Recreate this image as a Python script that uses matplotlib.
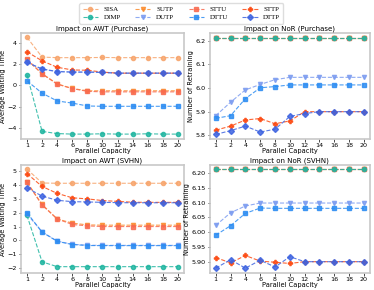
import matplotlib
matplotlib.use('Agg')
import matplotlib.pyplot as plt
import numpy as np

caps = [1, 2, 4, 6, 8, 10, 12, 14, 16, 18, 20]
names = ['SISA', 'DIMP', 'SUTP', 'DUTP', 'STTU', 'DTTU', 'STTP', 'DTTP']
draw_order = ['SISA', 'SUTP', 'STTU', 'DIMP', 'DUTP', 'DTTU', 'STTP', 'DTTP']
colors = {'SISA': '#f7a46b', 'DIMP': '#1fb5a0', 'SUTP': '#fb8c2e', 'DUTP': '#7c9cf0',
          'STTU': '#f86a4f', 'DTTU': '#2b8cf2', 'STTP': '#fc4a12', 'DTTP': '#3d63e0'}
markers = {'SISA': 'o', 'DIMP': 'o', 'SUTP': 'v', 'DUTP': 'v',
           'STTU': 's', 'DTTU': 's', 'STTP': 'P', 'DTTP': 'D'}

# average waiting time, purchase
awt_pur = {
    'SISA': [4.5, 2.65, 2.6, 2.6, 2.6, 2.62, 2.6, 2.6, 2.6, 2.6, 2.6],
    'DIMP': [1.0, -4.3, -4.5, -4.55, -4.55, -4.52, -4.55, -4.55, -4.52, -4.55, -4.55],
    'SUTP': [2.4, 1.1, 0.15, -0.28, -0.5, -0.5, -0.5, -0.5, -0.5, -0.5, -0.5],
    'DUTP': [2.2, 1.5, 1.3, 1.25, 1.25, 1.22, 1.15, 1.15, 1.15, 1.15, 1.15],
    'STTU': [2.45, 1.08, 0.12, -0.3, -0.55, -0.6, -0.6, -0.6, -0.6, -0.6, -0.6],
    'DTTU': [0.43, -0.72, -1.45, -1.65, -1.92, -1.95, -1.95, -1.95, -1.95, -1.95, -1.95],
    'STTP': [3.15, 2.3, 1.7, 1.45, 1.42, 1.25, 1.15, 1.15, 1.15, 1.15, 1.15],
    'DTTP': [2.15, 1.55, 1.3, 1.25, 1.25, 1.22, 1.15, 1.15, 1.15, 1.15, 1.15],
}

# number of retraining, purchase
nor_pur = {
    'SISA': [6.21] * 11,
    'DIMP': [6.21] * 11,
    'SUTP': [6.21] * 11,
    'DUTP': [5.883, 5.94, 5.992, 6.015, 6.035, 6.045, 6.045, 6.045, 6.045, 6.045, 6.045],
    'STTU': [6.21] * 11,
    'DTTU': [5.872, 5.883, 5.955, 6.001, 6.006, 6.013, 6.013, 6.013, 6.013, 6.013, 6.013],
    'STTP': [5.822, 5.839, 5.865, 5.871, 5.849, 5.861, 5.9, 5.9, 5.9, 5.9, 5.9],
    'DTTP': [5.804, 5.82, 5.839, 5.814, 5.826, 5.88, 5.892, 5.9, 5.9, 5.9, 5.9],
}

# average waiting time, svhn
awt_svhn = {
    'SISA': [5.15, 4.15, 4.13, 4.13, 4.13, 4.13, 4.13, 4.13, 4.13, 4.13, 4.13],
    'DIMP': [1.8, -1.55, -1.9, -1.9, -1.9, -1.9, -1.9, -1.9, -1.9, -1.9, -1.9],
    'SUTP': [4.2, 2.6, 1.55, 1.25, 1.12, 1.1, 1.1, 1.1, 1.1, 1.1, 1.1],
    'DUTP': [1.9, 0.62, -0.05, -0.28, -0.35, -0.36, -0.36, -0.36, -0.36, -0.36, -0.36],
    'STTU': [4.2, 2.55, 1.55, 1.15, 1.05, 1.0, 1.0, 1.0, 1.0, 1.0, 1.0],
    'DTTU': [2.0, 0.6, -0.07, -0.3, -0.37, -0.38, -0.38, -0.38, -0.38, -0.38, -0.38],
    'STTP': [4.83, 3.9, 3.4, 3.08, 3.0, 2.88, 2.82, 2.76, 2.75, 2.75, 2.75],
    'DTTP': [3.8, 3.2, 2.9, 2.8, 2.78, 2.75, 2.73, 2.72, 2.72, 2.72, 2.72],
}

# number of retraining, svhn
nor_svhn = {
    'SISA': [6.215] * 11,
    'DIMP': [6.215] * 11,
    'SUTP': [6.215] * 11,
    'DUTP': [6.023, 6.066, 6.089, 6.099, 6.099, 6.099, 6.099, 6.099, 6.099, 6.099, 6.099],
    'STTU': [6.215] * 11,
    'DTTU': [5.99, 6.022, 6.064, 6.082, 6.081, 6.081, 6.081, 6.081, 6.081, 6.081, 6.081],
    'STTP': [5.914, 5.896, 5.921, 5.902, 5.898, 5.894, 5.9, 5.9, 5.9, 5.9, 5.9],
    'DTTP': [5.878, 5.907, 5.878, 5.905, 5.882, 5.917, 5.9, 5.9, 5.9, 5.9, 5.9],
}

panels = [
    (awt_pur, 'Impact on AWT (Purchase)', 'Average Waiting Time', [0.056, 0.521, 0.436, 0.365]),
    (nor_pur, 'Impact on NoR (Purchase)', 'Number of Retraining', [0.561, 0.521, 0.428, 0.365]),
    (awt_svhn, 'Impact on AWT (SVHN)', 'Average Waiting Time', [0.056, 0.059, 0.436, 0.372]),
    (nor_svhn, 'Impact on NoR (SVHN)', 'Number of Retraining', [0.561, 0.059, 0.428, 0.372]),
]

fig = plt.figure(figsize=(3.74, 2.9), dpi=100)
x = np.arange(len(caps))
fs = 4.6

for data, title, ylab, pos in panels:
    ax = fig.add_axes(pos)
    for n in draw_order:
        ax.plot(x, data[n], linestyle='--', color=colors[n], marker=markers[n],
                markersize=3.0, linewidth=0.8, alpha=0.85, label=n)
    ax.set_xticks(x)
    ax.set_xticklabels([str(c) for c in caps])
    ax.set_xlim(-0.4, len(caps) - 0.6)
    ax.set_title(title, fontsize=fs + 0.4, pad=2)
    ax.set_ylabel(ylab, fontsize=fs + 0.2, labelpad=1)
    ax.set_xlabel('Parallel Capacity', fontsize=fs + 0.2, labelpad=0)
    ax.tick_params(labelsize=fs, length=1.8, width=0.5, pad=1.2)
    for s in ax.spines.values():
        s.set_color('#c8c8c8')
        s.set_linewidth(1.2)

axs = fig.axes
axs[0].set_ylim(-5.0, 4.9)
axs[0].set_yticks([-4, -2, 0, 2, 4])
axs[1].set_ylim(5.785, 6.232)
axs[1].set_yticks([5.8, 5.9, 6.0, 6.1, 6.2])
axs[2].set_ylim(-2.35, 5.45)
axs[3].set_ylim(5.862, 6.228)
axs[3].set_yticks([5.90, 5.95, 6.00, 6.05, 6.10, 6.15, 6.20])

handles, labels = axs[0].get_legend_handles_labels()
lookup = dict(zip(labels, handles))
fig.legend([lookup[n] for n in names], names, loc='upper center',
           bbox_to_anchor=(0.485, 1.0), ncol=4,
           prop={'family': 'Liberation Serif', 'size': fs + 0.4}, handlelength=2.2,
           columnspacing=2.1, borderpad=0.45, labelspacing=0.3, framealpha=1,
           edgecolor='#dddddd')

fig.savefig('out.png', dpi=100)
